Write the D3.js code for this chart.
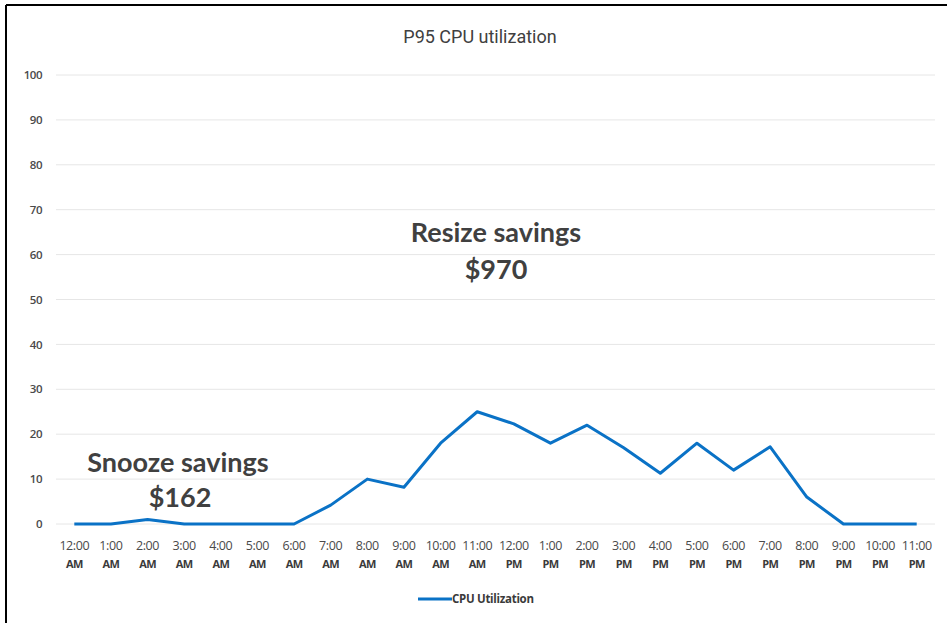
<!DOCTYPE html>
<html>
<head>
<meta charset="utf-8">
<script src="https://cdn.jsdelivr.net/npm/d3@7"></script>
<style>
  body { margin: 0; background: #fff; }
</style>
</head>
<body>
<div id="chart"></div>
<script>
const hours = ['12:00', '1:00', '2:00', '3:00', '4:00', '5:00', '6:00', '7:00', '8:00', '9:00', '10:00', '11:00',
               '12:00', '1:00', '2:00', '3:00', '4:00', '5:00', '6:00', '7:00', '8:00', '9:00', '10:00', '11:00'];
const periods = ['AM', 'AM', 'AM', 'AM', 'AM', 'AM', 'AM', 'AM', 'AM', 'AM', 'AM', 'AM',
                 'PM', 'PM', 'PM', 'PM', 'PM', 'PM', 'PM', 'PM', 'PM', 'PM', 'PM', 'PM'];
const cpu = [0, 0, 1, 0, 0, 0, 0, 4.2, 10, 8.2, 18, 25, 22.3, 18, 22, 17, 11.3, 18, 12, 17.2, 6, 0, 0, 0];
const yTicks = [0, 10, 20, 30, 40, 50, 60, 70, 80, 90, 100];

const w = 947, h = 623;
const plotLeft = 56, plotRight = 935, plotTop = 75, plotBottom = 524;

const svg = d3.select('#chart').append('svg')
  .attr('width', w)
  .attr('height', h);

// frame (top + left edges only, like the screenshot)
svg.append('line').attr('x1', 6).attr('x2', w).attr('y1', 5).attr('y2', 5)
  .attr('stroke', '#000').attr('stroke-width', 2);
svg.append('line').attr('x1', 6).attr('x2', 6).attr('y1', 5).attr('y2', h)
  .attr('stroke', '#000').attr('stroke-width', 2);

const xScale = d3.scaleBand()
  .domain(d3.range(cpu.length))
  .range([plotLeft, plotRight]);

const yScale = d3.scaleLinear()
  .domain([0, 100])
  .range([plotBottom, plotTop]);

// gridlines
svg.append('g')
  .selectAll('line')
  .data(yTicks)
  .enter()
  .append('line')
  .attr('x1', plotLeft)
  .attr('x2', plotRight)
  .attr('y1', d => yScale(d))
  .attr('y2', d => yScale(d))
  .attr('stroke', '#e6e6e6')
  .attr('stroke-width', 1);

// y axis labels
const yAxis = d3.axisLeft(yScale).tickValues(yTicks).tickSize(0).tickPadding(0);
svg.append('g')
  .attr('transform', 'translate(42, 0)')
  .call(yAxis)
  .call(g => g.select('.domain').remove())
  .selectAll('text')
  .attr('font-family', 'Open Sans, sans-serif')
  .attr('font-size', '11.5px')
  .attr('font-weight', 600)
  .attr('letter-spacing', '-0.5px')
  .style('fill', '#4a4a4a');

// x axis labels (two lines)
const xLabels = svg.append('g')
  .selectAll('text')
  .data(hours)
  .enter()
  .append('text')
  .attr('text-anchor', 'middle')
  .attr('font-family', 'Open Sans, sans-serif')
  .attr('font-size', '12.5px')
  .style('fill', '#4a4a4a')
  .attr('x', (d, i) => xScale(i) + xScale.bandwidth() / 2)
  .attr('y', 550);
xLabels.append('tspan')
  .attr('letter-spacing', '-0.4px')
  .text(d => d);
xLabels.append('tspan')
  .attr('x', (d, i) => xScale(i) + xScale.bandwidth() / 2)
  .attr('dy', 18)
  .attr('letter-spacing', '-0.6px')
  .attr('font-size', '11px')
  .attr('font-weight', 'bold')
  .style('fill', '#3a3a3a')
  .text((d, i) => periods[i]);

// line
const line = d3.line()
  .x((d, i) => xScale(i) + xScale.bandwidth() / 2)
  .y(d => yScale(d));

svg.append('path')
  .datum(cpu)
  .attr('fill', 'none')
  .attr('stroke', '#0a72c6')
  .attr('stroke-width', 3)
  .attr('stroke-linejoin', 'round')
  .attr('d', line);

// title
svg.append('text')
  .attr('x', 480)
  .attr('y', 43)
  .attr('text-anchor', 'middle')
  .attr('font-family', 'Liberation Sans Narrow, Roboto, sans-serif')
  .attr('font-size', '18px')
  .style('fill', '#404040')
  .text('P95 CPU utilization');

// annotations
const notes = [
  { text: 'Resize savings', x: 496, y: 242 },
  { text: '$970', x: 496, y: 279 },
  { text: 'Snooze savings', x: 178, y: 472 },
  { text: '$162', x: 180, y: 507 }
];
svg.append('g')
  .selectAll('text')
  .data(notes)
  .enter()
  .append('text')
  .attr('x', d => d.x)
  .attr('y', d => d.y)
  .attr('text-anchor', 'middle')
  .attr('font-family', 'Lato, sans-serif')
  .attr('font-size', '27px')
  .attr('font-weight', 'bold')
  .style('fill', '#404040')
  .text(d => d.text);

// legend
const legend = svg.append('g').attr('transform', 'translate(418, 599)');
legend.append('line')
  .attr('x1', 0).attr('x2', 34)
  .attr('y1', 0).attr('y2', 0)
  .attr('stroke', '#0a72c6')
  .attr('stroke-width', 3);
legend.append('text')
  .attr('x', 34)
  .attr('y', 4)
  .attr('font-family', 'Open Sans, sans-serif')
  .attr('font-size', '11.5px')
  .attr('font-weight', 'bold')
  .attr('letter-spacing', '-0.3px')
  .style('fill', '#3a3a3a')
  .text('CPU Utilization');
</script>
</body>
</html>
